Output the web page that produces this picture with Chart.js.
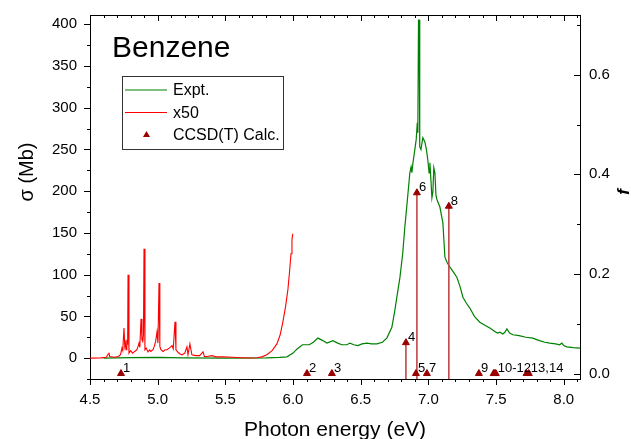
<!DOCTYPE html>
<html>
<head>
<meta charset="utf-8">
<script src="https://cdn.jsdelivr.net/npm/chart.js@4.4.1/dist/chart.umd.min.js"></script>
<style>
  html, body { margin: 0; padding: 0; background: #fff; }
  #wrap { width: 631px; height: 439px; }
</style>
</head>
<body>
<div id="wrap"><canvas id="chart" width="631" height="439"></canvas></div>
<script>
// Expt. absorption cross section (Mb) vs photon energy (eV)
const exptEnergy = [4.6, 4.8, 5.0, 5.2, 5.5, 5.8, 5.9, 5.955, 6.0, 6.03, 6.07, 6.12, 6.15, 6.184, 6.22, 6.25, 6.295, 6.33, 6.36, 6.398,
  6.42, 6.45, 6.479, 6.51, 6.546, 6.58, 6.62, 6.66, 6.693, 6.73, 6.75, 6.767, 6.79, 6.81, 6.826, 6.845, 6.863, 6.872, 6.878, 6.886,
  6.9, 6.91, 6.918, 6.922, 6.927, 6.932, 6.936, 6.945, 6.959, 6.974, 6.985, 6.996, 7.005, 7.011, 7.018, 7.026, 7.033, 7.04, 7.048, 7.056,
  7.063, 7.085, 7.107, 7.115, 7.122, 7.14, 7.159, 7.185, 7.21, 7.235, 7.255, 7.28, 7.306, 7.34, 7.38, 7.42, 7.454, 7.491, 7.51, 7.528,
  7.55, 7.565, 7.58, 7.6, 7.624, 7.67, 7.72, 7.772, 7.82, 7.86, 7.897, 7.94, 7.97, 7.986, 8.0, 8.023, 8.07, 8.12];
const exptSigma = [0, 0.5, 0.8, 0.3, 0.1, 0.3, 0.8, 1.5, 6, 11, 16, 16, 19, 24, 21, 18, 21, 18, 16, 16,
  18, 16, 15, 17, 18, 17, 17, 19, 24, 37, 55, 73, 97, 125, 157, 190, 222, 229, 222, 234,
  250, 262, 282, 270, 405, 405, 253, 250, 264, 259, 250, 237, 222, 234, 215, 192, 199, 228, 222, 195,
  190, 181, 162, 140, 121, 114, 109, 103, 97, 85, 73, 66, 60, 50, 43, 39, 36, 32, 30, 31,
  29, 31, 35, 30, 28, 27, 25, 24, 21, 19, 18, 17, 16, 18, 15, 13.5, 12.5, 12];

// x50 magnified low-energy region
const x50Energy = [4.5, 4.58, 4.62, 4.635, 4.64, 4.645, 4.68, 4.71, 4.725, 4.736, 4.742, 4.751, 4.757, 4.762, 4.766, 4.772, 4.778, 4.781, 4.788, 4.8,
  4.815, 4.83, 4.847, 4.855, 4.862, 4.868, 4.877, 4.884, 4.89, 4.895, 4.899, 4.906, 4.915, 4.928, 4.94, 4.95, 4.965, 4.975, 4.985, 4.995,
  5.002, 5.01, 5.016, 5.024, 5.04, 5.055, 5.069, 5.085, 5.1, 5.106, 5.115, 5.128, 5.135, 5.15, 5.165, 5.18, 5.2, 5.216, 5.224, 5.238,
  5.253, 5.28, 5.31, 5.335, 5.345, 5.364, 5.4, 5.43, 5.482, 5.55, 5.62, 5.69, 5.733, 5.77, 5.807, 5.845, 5.881, 5.905, 5.925, 5.945,
  5.962, 5.975, 5.985, 5.992, 5.998];
const x50Sigma = [0, 0.3, 1, 5, 6.5, 2, 1, 2, 4, 12, 9, 36, 14, 18, 10, 22, 16, 100, 6, 9,
  6, 8, 10, 14, 18, 13, 47, 22, 20, 28, 131, 10, 12, 7.5, 10, 8, 10, 14, 20, 31.5,
  18, 90, 14, 10, 8, 10, 10, 12, 14, 15, 11, 43.5, 10, 7, 5, 4, 6, 13.5, 4, 17,
  4, 3, 3, 7.5, 2, 2, 3, 1.5, 1.5, 1, 0.5, 0.2, 0.5, 1.5, 4, 9, 17, 28, 43.5, 62,
  82, 105, 125, 142, 149];

// CCSD(T) transitions: energy (eV), oscillator strength f, label
const calcEnergy = [4.729, 6.103, 6.287, 6.834, 6.908, 6.915, 6.989, 7.151, 7.373, 7.482, 7.49, 7.498, 7.725, 7.742];
const calcF = [0, 0, 0, 0.062, 0, 0.363, 0, 0.336, 0, 0, 0, 0, 0, 0];
const calcLabels = ['1', '2', '3', '4', '5', '6', '7', '8', '9', '', '', '10-12', '', '13,14'];

const xTicks = [4.5, 5.0, 5.5, 6.0, 6.5, 7.0, 7.5, 8.0];
const yTicks = [0, 50, 100, 150, 200, 250, 300, 350, 400];
const fTicks = [0, 0.2, 0.4, 0.6];

const X_MIN = 4.5, X_MAX = 8.12;
const Y_MIN = -25, Y_MAX = 411;
const F_MIN = -0.011, F_MAX = 0.72;

const FONT = "'Liberation Sans', Arial, sans-serif";
Chart.defaults.font.family = FONT;
Chart.defaults.color = '#000';

const exptData = exptEnergy.map((e, i) => ({ x: e, y: exptSigma[i] }));
const x50Data = x50Energy.map((e, i) => ({ x: e, y: x50Sigma[i] }));
const calcData = calcEnergy.map((e, i) => ({ x: e, y: calcF[i] }));
// sticks from the axis up to each triangle, split by null gaps
const stickData = [];
calcEnergy.forEach((e, i) => {
  if (calcF[i] > 0) {
    stickData.push({ x: e, y: F_MIN }, { x: e, y: calcF[i] }, { x: e, y: null });
  }
});

// ticks, frame, point labels, legend and titles
const decor = {
  id: 'decor',
  afterDatasetsDraw(chart) {
    const ctx = chart.ctx;
    const a = chart.chartArea;
    const sx = chart.scales.x, sy = chart.scales.y, sf = chart.scales.y2;
    ctx.save();
    ctx.strokeStyle = '#000';
    ctx.lineWidth = 1;

    // top frame line
    ctx.beginPath();
    ctx.moveTo(a.left, Math.round(a.top) + 0.5);
    ctx.lineTo(a.right, Math.round(a.top) + 0.5);
    ctx.stroke();

    const major = 6, minor = 3;
    ctx.beginPath();
    // x: out at bottom, in at top
    for (let i = 45; i <= 81; i++) {
      const v = i / 10;
      const px = Math.round(sx.getPixelForValue(v)) + 0.5;
      const len = (i % 5 === 0) ? major : minor;
      ctx.moveTo(px, a.bottom); ctx.lineTo(px, a.bottom + len);
      ctx.moveTo(px, a.top); ctx.lineTo(px, a.top + len);
    }
    // left axis: out
    for (let i = -1; i <= 16; i++) {
      const v = i * 25;
      const py = Math.round(sy.getPixelForValue(v)) + 0.5;
      const len = (i % 2 === 0) ? major : minor;
      ctx.moveTo(a.left - len, py); ctx.lineTo(a.left, py);
    }
    // right axis: in
    for (let i = 0; i <= 7; i++) {
      const v = i / 10;
      const py = Math.round(sf.getPixelForValue(v)) + 0.5;
      const len = (i % 2 === 0) ? major : minor;
      ctx.moveTo(a.right - len, py); ctx.lineTo(a.right, py);
    }
    ctx.stroke();

    // transition labels
    const triMeta = chart.getDatasetMeta(3);
    ctx.fillStyle = '#000';
    ctx.font = '13px ' + FONT;
    ctx.textAlign = 'left';
    ctx.textBaseline = 'alphabetic';
    triMeta.data.forEach((pt, i) => {
      if (calcLabels[i]) ctx.fillText(calcLabels[i], pt.x + 2, pt.y - 1.5);
    });

    // title inside plot
    ctx.font = '30px ' + FONT;
    ctx.fillText('Benzene', 112, 57);

    // legend
    const ds = chart.data.datasets;
    const lx = 122.5, ly = 76.5, lw = 161, lh = 73;
    ctx.strokeStyle = '#333';
    ctx.strokeRect(lx, ly, lw, lh);
    ctx.font = '16px ' + FONT;
    ctx.textBaseline = 'middle';
    const rows = [{ d: ds[0], y: 90 }, { d: ds[1], y: 112.5 }, { d: ds[3], y: 135 }];
    rows.forEach(r => {
      if (r.d.showLine === false) {
        ctx.fillStyle = r.d.backgroundColor;
        ctx.beginPath();
        ctx.moveTo(146.5, r.y - 4);
        ctx.lineTo(150, r.y + 2);
        ctx.lineTo(143, r.y + 2);
        ctx.closePath();
        ctx.fill();
      } else {
        ctx.strokeStyle = r.d.borderColor;
        ctx.lineWidth = 1.2;
        ctx.beginPath();
        ctx.moveTo(125, r.y); ctx.lineTo(167, r.y);
        ctx.stroke();
      }
      ctx.fillStyle = '#000';
      ctx.fillText(r.d.label, 173, r.y + 1);
    });

    // axis titles
    ctx.textAlign = 'center';
    ctx.font = '21px ' + FONT;
    ctx.textBaseline = 'alphabetic';
    ctx.fillText('Photon energy (eV)', (a.left + a.right) / 2, 436);

    ctx.save();
    ctx.translate(27, 172);
    ctx.rotate(-Math.PI / 2);
    ctx.textBaseline = 'middle';
    ctx.font = '20px ' + FONT;
    ctx.fillText('\u03c3 (Mb)', 0, 0);
    ctx.restore();

    ctx.save();
    ctx.translate(624, 192);
    ctx.rotate(-Math.PI / 2);
    ctx.textBaseline = 'middle';
    ctx.font = 'italic bold 17px ' + FONT;
    ctx.fillText('f', 0, 0);
    ctx.restore();

    ctx.restore();
  }
};

const tickFont = { size: 15, family: FONT };

new Chart(document.getElementById('chart'), {
  type: 'line',
  data: {
    datasets: [
      {
        label: 'Expt.',
        data: exptData,
        yAxisID: 'y',
        borderColor: '#008000',
        borderWidth: 1.2,
        pointRadius: 0,
        order: 3,
      },
      {
        label: 'x50',
        data: x50Data,
        yAxisID: 'y',
        borderColor: '#ff0000',
        borderWidth: 1.1,
        pointRadius: 0,
        order: 2,
      },
      {
        label: 'sticks',
        data: stickData,
        yAxisID: 'y2',
        borderColor: '#c04848',
        borderWidth: 1.6,
        pointRadius: 0,
        spanGaps: false,
        order: 1,
      },
      {
        label: 'CCSD(T) Calc.',
        data: calcData,
        yAxisID: 'y2',
        showLine: false,
        pointStyle: 'triangle',
        pointRadius: 4,
        backgroundColor: '#990000',
        borderColor: '#990000',
        borderWidth: 1,
        order: 0,
      },
    ],
  },
  options: {
    responsive: false,
    animation: false,
    devicePixelRatio: 1,
    layout: { padding: { top: 15, left: 0, right: 0, bottom: 0 } },
    plugins: {
      legend: { display: false },
      tooltip: { enabled: false },
    },
    elements: { line: { tension: 0 } },
    scales: {
      x: {
        type: 'linear',
        position: 'bottom',
        min: X_MIN,
        max: X_MAX,
        afterBuildTicks: (s) => { s.ticks = xTicks.map(v => ({ value: v })); },
        afterFit: (s) => { s.height = 60; s.paddingLeft = 0; s.paddingRight = 0; },
        grid: { display: false, drawTicks: false },
        border: { display: true, color: '#000', width: 1 },
        ticks: {
          padding: 12,
          color: '#000',
          font: tickFont,
          maxRotation: 0,
          autoSkip: false,
          callback: (v) => Number(v).toFixed(1),
        },
      },
      y: {
        type: 'linear',
        position: 'left',
        min: Y_MIN,
        max: Y_MAX,
        afterBuildTicks: (s) => { s.ticks = yTicks.map(v => ({ value: v })); },
        afterFit: (s) => { s.width = 90; s.paddingTop = 0; s.paddingBottom = 0; },
        grid: { display: false, drawTicks: false },
        border: { display: true, color: '#000', width: 1 },
        ticks: {
          padding: 13,
          color: '#000',
          font: tickFont,
          autoSkip: false,
          callback: (v) => String(v),
        },
      },
      y2: {
        type: 'linear',
        position: 'right',
        min: F_MIN,
        max: F_MAX,
        afterBuildTicks: (s) => { s.ticks = fTicks.map(v => ({ value: v })); },
        afterFit: (s) => { s.width = 51; s.paddingTop = 0; s.paddingBottom = 0; },
        grid: { display: false, drawTicks: false },
        border: { display: true, color: '#000', width: 1 },
        ticks: {
          padding: 9,
          color: '#000',
          font: tickFont,
          autoSkip: false,
          callback: (v) => Number(v).toFixed(1),
        },
      },
    },
  },
  plugins: [decor],
});
</script>
</body>
</html>
